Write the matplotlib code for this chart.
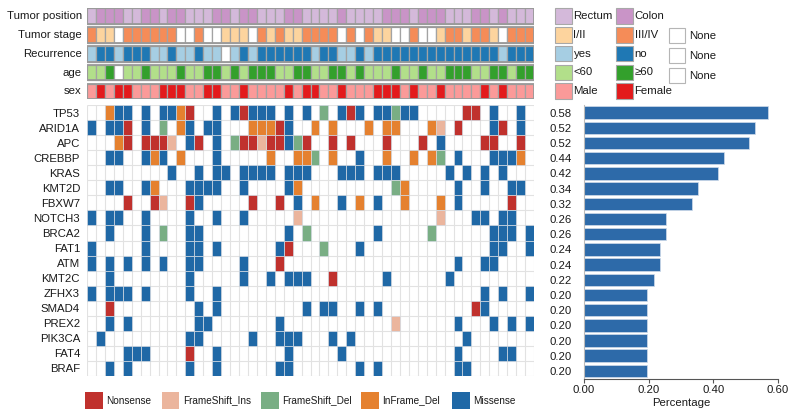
import matplotlib
matplotlib.use('Agg')
import matplotlib.pyplot as plt
from matplotlib.patches import Rectangle
import numpy as np

plt.rcParams['font.family'] = ['Liberation Sans', 'DejaVu Sans']

W, H = 791, 417
N_SAMPLES = 50

# ---------------- data ----------------
genes = ["TP53", "ARID1A", "APC", "CREBBP", "KRAS", "KMT2D", "FBXW7", "NOTCH3",
         "BRCA2", "FAT1", "ATM", "KMT2C", "ZFHX3", "SMAD4", "PREX2", "PIK3CA",
         "FAT4", "BRAF"]
pct_labels = ["0.58", "0.52", "0.52", "0.44", "0.42", "0.34", "0.32", "0.26",
              "0.26", "0.24", "0.24", "0.22", "0.20", "0.20", "0.20", "0.20",
              "0.20", "0.20"]
bar_values = [0.569, 0.530, 0.510, 0.432, 0.413, 0.353, 0.333, 0.254, 0.254,
              0.235, 0.235, 0.216, 0.196, 0.196, 0.196, 0.196, 0.196, 0.196]

# mutation codes: N=Nonsense, I=FrameShift_Ins, D=FrameShift_Del, F=InFrame_Del, M=Missense
mutation_rows = [
    "..FMM.M.MM FN..M.MNMM M.M.M.D.MN M.MMDMM... ..NN.M..M.",  # TP53
    "M.MMN.M.D. FM.MM...FF FNM..F.F.. .F.FF...FI .N...MN.M.",  # ARID1A
    "...FN.NNNI .MN.M.DNNI NNMDN..N.N ...N...N.M ....NN..N.",  # APC
    "..MM..MFM. F...M..... F..FFD.F.. M..F..F.FD .M...MMMF.",  # CREBBP
    ".........M ..M.MM.MMM M.MMM...MM M.MMM..... M.M.M.M...",  # KRAS
    "..MM..MF.. .MMMM..M.. ..MF...... ....DF.... .M..M..MM.",  # KMT2D
    "....N..NI. .NM.....N. .N.M.F..M. F.M..F...F .M.....N..",  # FBXW7
    "M.MM..M... .M..M..M.. ...I...... .........I ...MM.MM..",  # NOTCH3
    "..M...M.D. .MM....... ..M.D..... ..M.....D. .....MMM.M",  # BRCA2
    "M.....M... .MM.M..... .MN...D... M......... .....MM..M",  # FAT1
    "M.M.M.M.M. .MM....M.. .N........ .......... .M..MM....",  # ATM
    "..M....... .M.....M.. M.MMM..N.. ...M...... M.........",  # KMT2C
    "M.MMM.M... .M..M..... .......... .......... ....M.M..M",  # ZFHX3
    "..N....... ..M.M..... ....M.MM.. M.M....... ...NM.....",  # SMAD4
    "..M.M..... ..MM...... .M........ ....I..... .M...M.M.M",  # PREX2
    ".M........ .MM.....M. .MMM...M.M .......... ..M.......",  # PIK3CA
    "....MMM... .N..M..... ..M.....M. .......... .M....MM..",  # FAT4
    "..M.M..... .M..M..... .MM....... M.M....... .MM.......",  # BRAF
]
mutation_names = {"N": "Nonsense", "I": "FrameShift_Ins", "D": "FrameShift_Del",
                  "F": "InFrame_Del", "M": "Missense"}
mutation_colors = {"N": "#c0312d", "I": "#ebb59d", "D": "#79ae84",
                   "F": "#e5812f", "M": "#1f68a6"}

annot_names = ["Tumor position", "Tumor stage", "Recurrence", "age", "sex"]
tumor_position = "RCCCRRCCRC CRRRCCRCCR RRCCRRRRCR RRRCCCRCCC RRRCCRCRRR"
tumor_stage    = "AEE.AAAAAA ..A..EEE.A EAEEAAAA.A .AEE..A..E AAEAAE.AAA"
recurrence     = "YNNYNNNYYN YYNYY.YNYN NNNNNYNNYY NYNNNNNNNN NNNNNNYNNN"
age            = "YYO.YYOYYY OYYOOYOYOO OYYOOYYOOY OYYYOYYOYY OOOYYOOYOO"
sex            = "MFMFFMMMFF FMMFFMMFMM MMFMFFMMFM MMFFFMFMMF MMMMFMFMMM"

annot_levels = [
    [("R", "Rectum", "#d4b9da"), ("C", "Colon", "#c994c7")],
    [("E", "I/II", "#fdd49e"), ("A", "III/IV", "#f58c58")],
    [("Y", "yes", "#a6cee3"), ("N", "no", "#1f78b4")],
    [("Y", "<60", "#b2df8a"), ("O", "\u226560", "#33a02c")],
    [("M", "Male", "#fb9a99"), ("F", "Female", "#e31a1c")],
]
annot_has_none = [False, True, True, True, False]
annot_values = [tumor_position, tumor_stage, recurrence, age, sex]

bar_color = "#2d6aa9"
text_color = "#1a1a1a"
FS = 8.2
FS_LEG = 7.2

# ---------------- helpers ----------------
def rect(x0, y0, x1, y1):
    """pixel box (top-left origin) -> figure fraction rect"""
    return [x0 / W, 1 - y1 / H, (x1 - x0) / W, (y1 - y0) / H]

fig = plt.figure(figsize=(W / 100, H / 100), dpi=100)

# ---------------- annotation rows ----------------
GX0, GX1 = 87, 534
axa = fig.add_axes(rect(GX0, 8.3, GX1, 99.3))
row_h = 0.833
xs = np.arange(N_SAMPLES) + 0.5
for i, (vals, levels) in enumerate(zip(annot_values, annot_levels)):
    codes = vals.replace(" ", "")
    cmap = {c: col for c, _, col in levels}
    cols = [cmap.get(c, "white") for c in codes]
    axa.bar(xs, row_h, bottom=i, width=1.0, color=cols,
            edgecolor="#a3a3a3", linewidth=0.9)
    axa.add_patch(Rectangle((0, i), N_SAMPLES, row_h, fill=False,
                            edgecolor="#9a9a9a", linewidth=1.3))
    axa.text(-0.6, i + row_h / 2, annot_names[i], ha="right", va="center",
             fontsize=FS, color=text_color)
axa.set_xlim(0, N_SAMPLES)
axa.set_ylim(4 + row_h, 0)
axa.axis("off")

# ---------------- mutation grid ----------------
axg = fig.add_axes(rect(GX0, 105, GX1, 376))
n_genes = len(genes)
axg.vlines(np.arange(N_SAMPLES + 1), 0, n_genes, color="#e2e2e2", linewidth=0.8, zorder=1)
axg.hlines(np.arange(n_genes + 1), 0, N_SAMPLES, color="#e2e2e2", linewidth=0.8, zorder=1)
for gi, row in enumerate(mutation_rows):
    codes = row.replace(" ", "")
    for code in mutation_colors:
        idx = [k for k, c in enumerate(codes) if c == code]
        if idx:
            axg.bar(np.array(idx) + 0.5, 1.0, bottom=gi, width=1.0,
                    color=mutation_colors[code], edgecolor="#d5dce3",
                    linewidth=0.5, zorder=2)
axg.set_xlim(0, N_SAMPLES)
axg.set_ylim(n_genes, 0)
axg.set_xticks([])
axg.set_yticks(np.arange(n_genes) + 0.5)
axg.set_yticklabels(genes, fontsize=FS, color=text_color)
axg.tick_params(axis="y", length=0, pad=5)
for s in axg.spines.values():
    s.set_visible(False)

# ---------------- bar chart ----------------
axb = fig.add_axes(rect(584, 105, 778, 378.5))
axb.barh(np.arange(n_genes) + 0.5, bar_values, height=0.82, color=bar_color,
         edgecolor="#d0dcea", linewidth=0.5)
axb.set_ylim(n_genes, 0)
axb.set_xlim(0, 0.6)
axb.set_yticks(np.arange(n_genes) + 0.5)
axb.set_yticklabels(pct_labels, fontsize=FS, color=text_color)
axb.set_xticks([0, 0.2, 0.4, 0.6])
axb.set_xticklabels(["0.00", "0.20", "0.40", "0.60"], fontsize=FS, color=text_color)
axb.tick_params(axis="y", length=0, pad=9)
axb.tick_params(axis="x", length=3, width=0.8, color="#555555", pad=2)
axb.set_xlabel("Percentage", fontsize=FS, color=text_color, labelpad=2)
for side in ["top", "right"]:
    axb.spines[side].set_visible(False)
axb.spines["left"].set_color("#bbbbbb")
axb.spines["left"].set_linewidth(0.8)
axb.spines["bottom"].set_color("#555555")
axb.spines["bottom"].set_linewidth(0.8)

# ---------------- legends (overlay axes in pixel coords) ----------------
axl = fig.add_axes([0, 0, 1, 1], zorder=-1)
axl.set_xlim(0, W)
axl.set_ylim(H, 0)
axl.axis("off")

# right-hand annotation legend
leg_y0 = [8.3, 27.0, 45.8, 64.5, 83.2]
col_x = [555, 616]
for i, levels in enumerate(annot_levels):
    for j, (_, lab, col) in enumerate(levels):
        axl.add_patch(Rectangle((col_x[j], leg_y0[i]), 16.5, 15.5, facecolor=col,
                                edgecolor="#a8a8a8", linewidth=0.8))
        axl.text(col_x[j] + 18.5, leg_y0[i] + 7.8, lab, ha="left", va="center",
                 fontsize=FS, color=text_color)
    if annot_has_none[i]:
        yy = leg_y0[i] + 0.8 + (i - 1) * 1.3
        axl.add_patch(Rectangle((669, yy), 16, 15.5, facecolor="white",
                                edgecolor="#b5b5b5", linewidth=0.8))
        axl.text(689.5, yy + 7.8, "None", ha="left", va="center",
                 fontsize=FS, color=text_color)

# bottom mutation legend
leg_items = ["N", "I", "D", "F", "M"]
leg_x = [85, 161.5, 261, 361, 452]
for code, x in zip(leg_items, leg_x):
    axl.add_patch(Rectangle((x, 392), 17.5, 17, facecolor=mutation_colors[code],
                            edgecolor="none"))
    axl.text(x + 21.5, 400.5, mutation_names[code], ha="left", va="center",
             fontsize=FS_LEG, color=text_color)

fig.savefig("out.png", dpi=100)
